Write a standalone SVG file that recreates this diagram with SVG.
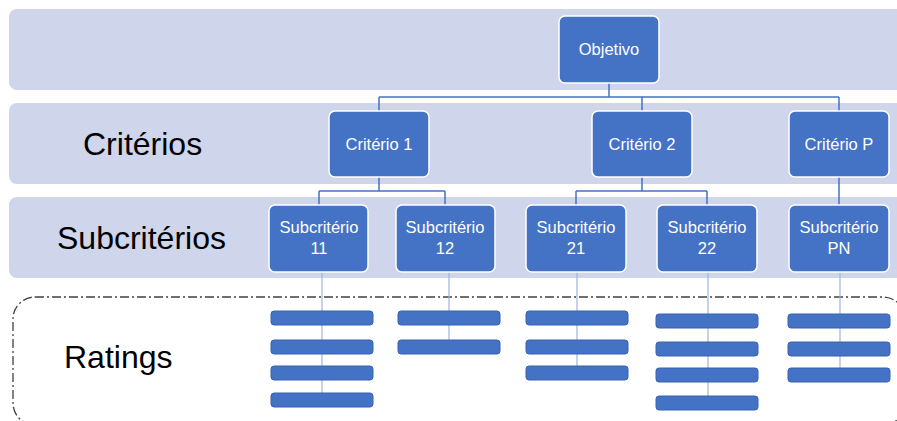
<svg xmlns="http://www.w3.org/2000/svg" width="897" height="421" viewBox="0 0 897 421">
<style>
.band{fill:#CFD5EA}
.node rect{fill:#4472C4;stroke:#FFFFFF;stroke-width:1.5}
.node text{fill:#FFFFFF;font-family:"Liberation Sans",Arial,sans-serif;font-size:16.5px;text-anchor:middle}
.lbl{fill:#000000;font-family:"Liberation Sans",Arial,sans-serif;font-size:32px}
.conn{fill:none;stroke:#4472C4;stroke-width:1.5}
.rline{fill:none;stroke:#9DB4E0;stroke-width:1.2}
.bar{fill:#4472C4;stroke:#3863AE;stroke-width:1}
</style>
<rect width="897" height="421" fill="#FFFFFF"/>
<g id="bands">
<rect class="band" x="9" y="9" width="900" height="81" rx="8"/>
<rect class="band" x="9" y="103" width="900" height="81" rx="8"/>
<rect class="band" x="9" y="197" width="900" height="81" rx="8"/>
</g>
<rect id="ratings-box" x="13" y="297" width="892" height="128" rx="22" fill="none" stroke="#404040" stroke-width="1.3" stroke-dasharray="9,3,2,3"/>
<text class="lbl" x="83" y="155">Critérios</text>
<text class="lbl" x="57" y="249">Subcritérios</text>
<text class="lbl" x="64" y="368">Ratings</text>
<g id="connectors">
<path class="conn" d="M609 83V97M379 97H839M379 97V111M642 97V111M839 97V111"/>
<path class="conn" d="M379 177V191M319 191H445M319 191V205M445 191V205"/>
<path class="conn" d="M642 177V191M576 191H707M576 191V205M707 191V205"/>
<path class="conn" d="M839 177V205"/>
<path class="rline" d="M322 272V400M449 272V347M577 272V373M708 272V403M840 272V375"/>
</g>
<g id="objetivo" class="node"><rect x="559" y="16" width="100" height="67" rx="6"/><text x="609" y="55">Objetivo</text></g>
<g id="criterio1" class="node"><rect x="329" y="111" width="100" height="66" rx="6"/><text x="379" y="150">Critério 1</text></g>
<g id="criterio2" class="node"><rect x="592" y="111" width="100" height="66" rx="6"/><text x="642" y="150">Critério 2</text></g>
<g id="criterioP" class="node"><rect x="789" y="111" width="100" height="66" rx="6"/><text x="839" y="150">Critério P</text></g>
<g id="sub11" class="node"><rect x="269" y="205" width="99" height="67" rx="6"/><text x="319" y="233">Subcritério</text><text x="319" y="254">11</text></g>
<g id="sub12" class="node"><rect x="396" y="205" width="99" height="67" rx="6"/><text x="445" y="233">Subcritério</text><text x="445" y="254">12</text></g>
<g id="sub21" class="node"><rect x="526" y="205" width="100" height="67" rx="6"/><text x="576" y="233">Subcritério</text><text x="576" y="254">21</text></g>
<g id="sub22" class="node"><rect x="657" y="205" width="100" height="67" rx="6"/><text x="707" y="233">Subcritério</text><text x="707" y="254">22</text></g>
<g id="subPN" class="node"><rect x="789" y="205" width="100" height="67" rx="6"/><text x="839" y="233">Subcritério</text><text x="839" y="254">PN</text></g>
<g id="ratings11">
<rect class="bar" x="271" y="311" width="102" height="14" rx="3"/>
<rect class="bar" x="271" y="340" width="102" height="14" rx="3"/>
<rect class="bar" x="271" y="366" width="102" height="14" rx="3"/>
<rect class="bar" x="271" y="393" width="102" height="14" rx="3"/>
</g>
<g id="ratings12">
<rect class="bar" x="398" y="311" width="102" height="14" rx="3"/>
<rect class="bar" x="398" y="340" width="102" height="14" rx="3"/>
</g>
<g id="ratings21">
<rect class="bar" x="526" y="311" width="102" height="14" rx="3"/>
<rect class="bar" x="526" y="340" width="102" height="14" rx="3"/>
<rect class="bar" x="526" y="366" width="102" height="14" rx="3"/>
</g>
<g id="ratings22">
<rect class="bar" x="656" y="314" width="102" height="14" rx="3"/>
<rect class="bar" x="656" y="342" width="102" height="14" rx="3"/>
<rect class="bar" x="656" y="368" width="102" height="14" rx="3"/>
<rect class="bar" x="656" y="396" width="102" height="14" rx="3"/>
</g>
<g id="ratingsPN">
<rect class="bar" x="788" y="314" width="102" height="14" rx="3"/>
<rect class="bar" x="788" y="342" width="102" height="14" rx="3"/>
<rect class="bar" x="788" y="368" width="102" height="14" rx="3"/>
</g>
</svg>
